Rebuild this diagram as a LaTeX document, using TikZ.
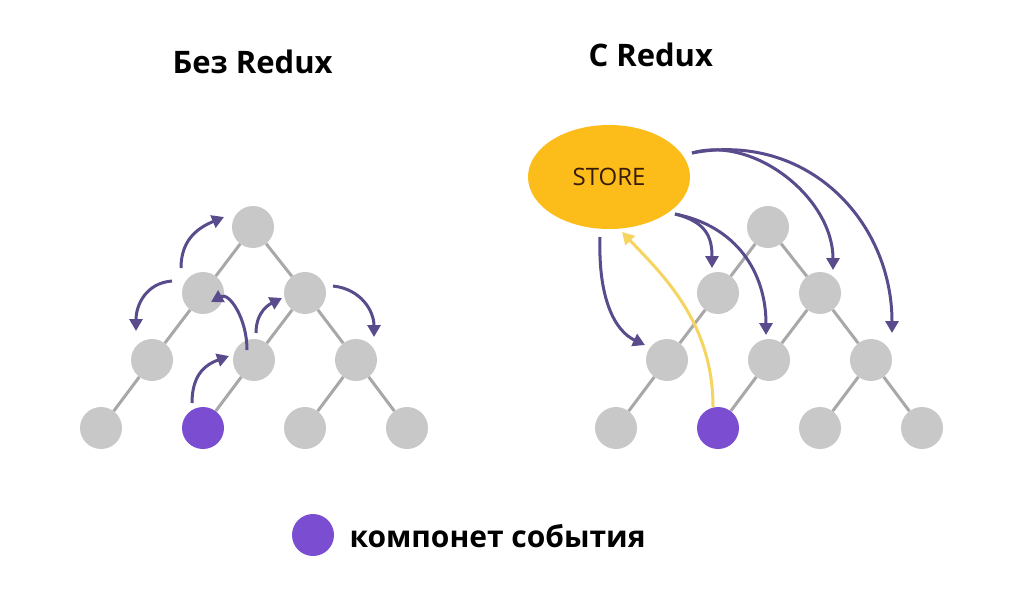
\documentclass[tikz,border=0pt]{standalone}
\usepackage{fontspec}
\setmainfont{Open Sans}
\usepackage{xcolor}
\usepackage{tikz}
\usetikzlibrary{arrows.meta,shapes.geometric}
\definecolor{nodegray}{RGB}{200,200,200}
\definecolor{linkgray}{RGB}{168,168,168}
\definecolor{eventpurple}{RGB}{123,77,208}
\definecolor{flowpurple}{RGB}{90,76,140}
\definecolor{storeyellow}{RGB}{252,188,25}
\definecolor{storetext}{RGB}{55,28,12}
\definecolor{dispatchyellow}{RGB}{246,212,96}

\begin{document}
\begin{tikzpicture}[x=1pt,y=-1pt,
    ball/.style={circle,fill=nodegray,minimum size=42pt,inner sep=0pt},
    evt/.style={circle,fill=eventpurple,minimum size=42pt,inner sep=0pt},
    link/.style={draw=linkgray,line width=3pt},
    flow/.style={draw=flowpurple,line width=3pt,-{Triangle[length=12pt,width=13pt]}},
    dispatch/.style={draw=dispatchyellow,line width=3pt,-{Triangle[length=12pt,width=13pt]}},
    title/.style={anchor=base west,font=\bfseries\fontsize{31}{31}\selectfont}]
\fill[white] (0,0) rectangle (1024,608);
\useasboundingbox (0,0) rectangle (1024,608);

\node[title] (titleL) at (169,73) {Без Redux};
\node[title] (titleR) at (585,66) {С Redux};

\foreach \t/\dx in {l/0,r/515} {
    \foreach \n/\x/\y/\s in {a/253/227/ball, b/203/293/ball, c/305/293/ball,
        d/152/360/ball, e/254/360/ball, f/356/360/ball,
        g/101/428/ball, h/203/428/evt, i/305/428/ball, j/407/428/ball}
        \node[\s] (\t\n) at (\x+\dx,\y) {};
    \foreach \u/\v in {a/b,a/c,b/d,c/e,c/f,d/g,e/h,f/i,f/j}
        \draw[link] (\t\u) -- (\t\v);
}

\node[ellipse,fill=storeyellow,minimum width=162pt,minimum height=104pt,
    font=\fontsize{24}{24}\selectfont,text=storetext] (store) at (609,177) {STORE};

\foreach \n/\x/\y in {
    up1/181/268, up1e/224/217,
    lf1/172/281, lf1e/136/331,
    bk1/247/350, bk1e/211/302,
    rt1/256/333, rt1e/282/298,
    dn1/333/286, dn1e/374/337,
    ev1/192/403, ev1e/229/356,
    st1/600/237, st1e/645/345,
    st2/675/214, st2e/712/268, st3e/766/335,
    st4/692/153, st4e/833/270, st5e/892/333,
    ev2/713/407, ev2e/622/232
} \coordinate (\n) at (\x,\y);

\draw[flow] (up1) .. controls +(0,-30) and +(-24,10) .. (up1e);
\draw[flow] (lf1) .. controls +(-26,2) and +(0,-26) .. (lf1e);
\draw[flow] (bk1) .. controls +(0,-32) and +(18,-10) .. (bk1e);
\draw[flow] (rt1) .. controls +(0,-22) and +(-12,6) .. (rt1e);
\draw[flow] (dn1) .. controls +(28,3) and +(0,-26) .. (dn1e);
\draw[flow] (ev1) .. controls +(0,-30) and +(-22,8) .. (ev1e);

\draw[flow] (st1) .. controls +(-2,62) and +(-30,-14) .. (st1e);
\draw[flow] (st2) .. controls +(32,8) and +(0,-30) .. (st2e);
\draw[flow] (st2) .. controls +(62,12) and +(0,-62) .. (st3e);
\draw[flow] (st4) .. controls +(62,-18) and +(0,-72) .. (st4e);
\draw[flow] (st4) .. controls +(115,-22) and +(0,-112) .. (st5e);
\draw[dispatch] (ev2) .. controls +(0,-85) and +(40,42) .. (ev2e);

\node[evt] (key) at (313,535) {};
\node[anchor=base west,font=\bfseries\fontsize{30}{30}\selectfont] (keytext) at (346,547) {компонет события};
\end{tikzpicture}
\end{document}
